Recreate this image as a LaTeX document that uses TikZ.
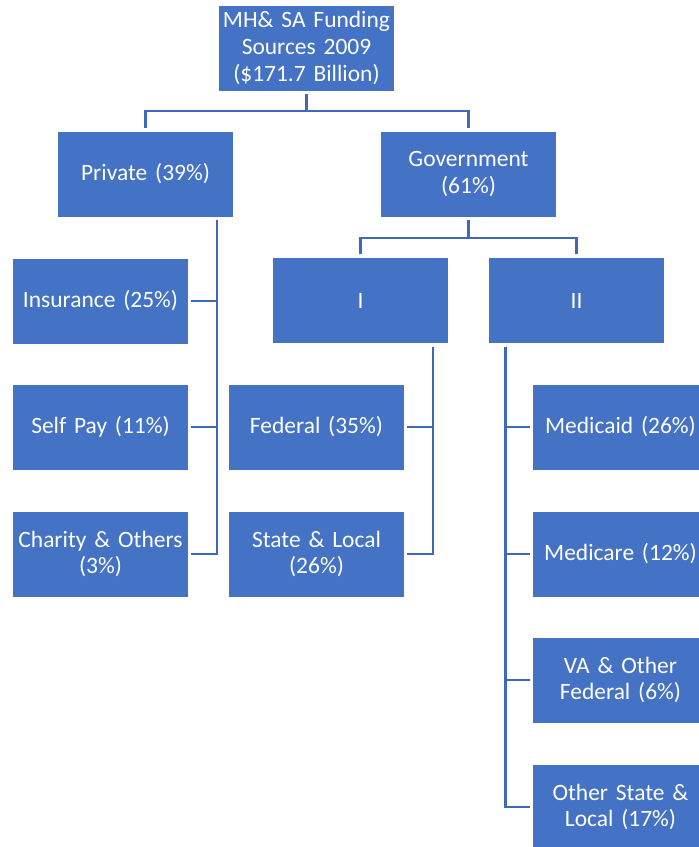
\documentclass[tikz,border=0pt]{standalone}
\usepackage{fontspec}
\setmainfont[WordSpace=0.85]{Carlito}
\usetikzlibrary{calc}
\definecolor{boxblue}{HTML}{4472C4}
\definecolor{lineblue}{HTML}{4068B8}
\tikzset{
  orgbox/.style={rectangle, fill=boxblue, draw=white, line width=0.6pt,
    minimum width=175*0.75pt, minimum height=86*0.75pt, inner sep=2pt,
    text=white, align=center, font=\fontsize{17.6}{20}\selectfont, text width=170*0.75pt},
  conn/.style={draw=lineblue, line width=1.6pt, shorten <=2pt, shorten >=2pt}
}
\begin{document}
\begin{tikzpicture}[x=0.75pt, y=-0.75pt]
\clip (0,0) rectangle (699,847);
\fill[white] (0,0) rectangle (699,847);
\node[orgbox] (top) at (306.5,48) {MH\& SA Funding\\Sources 2009\\(\$171.7 Billion)};
\node[orgbox] (priv) at (145.5,174) {Private (39\%)};
\node[orgbox] (gov) at (468.5,174) {Government\\(61\%)};
\node[orgbox] (one) at (360.5,300.5) {I};
\node[orgbox] (two) at (576.5,300.5) {II};
\node[orgbox] (ins) at (100.5,301) {Insurance (25\%)};
\node[orgbox] (self) at (100.5,427) {Self Pay (11\%)};
\node[orgbox] (char) at (100.5,554) {Charity \& Others\\(3\%)};
\node[orgbox] (fed) at (316.5,427) {Federal (35\%)};
\node[orgbox] (stl) at (316.5,554) {State \& Local\\(26\%)};
\node[orgbox] (mcaid) at (620.5,427) {Medicaid (26\%)};
\node[orgbox] (mcare) at (620.5,554) {Medicare (12\%)};
\node[orgbox] (va) at (620.5,680) {VA \& Other\\Federal (6\%)};
\node[orgbox] (osl) at (620.5,807) {Other State \&\\Local (17\%)};
% top level
\draw[conn] (top.south) -- ++(0,19.5) -| (priv.north);
\draw[conn] (top.south) -- ++(0,19.5) -| (gov.north);
% government
\draw[conn] (gov.south) -- ++(0,20.5) -| (one.north);
\draw[conn] (gov.south) -- ++(0,20.5) -| (two.north);
% private children
\coordinate (pv) at ($(priv.south east)+(-17,0)$);
\draw[conn] (pv) |- (ins.east);
\draw[conn] (pv) |- (self.east);
\draw[conn] (pv) |- (char.east);
% I children
\coordinate (iv) at ($(one.south east)+(-16,0)$);
\draw[conn] (iv) |- (fed.east);
\draw[conn] (iv) |- (stl.east);
% II children
\coordinate (iiv) at ($(two.south west)+(17,0)$);
\draw[conn] (iiv) |- (mcaid.west);
\draw[conn] (iiv) |- (mcare.west);
\draw[conn] (iiv) |- (va.west);
\draw[conn] (iiv) |- (osl.west);
\end{tikzpicture}
\end{document}
